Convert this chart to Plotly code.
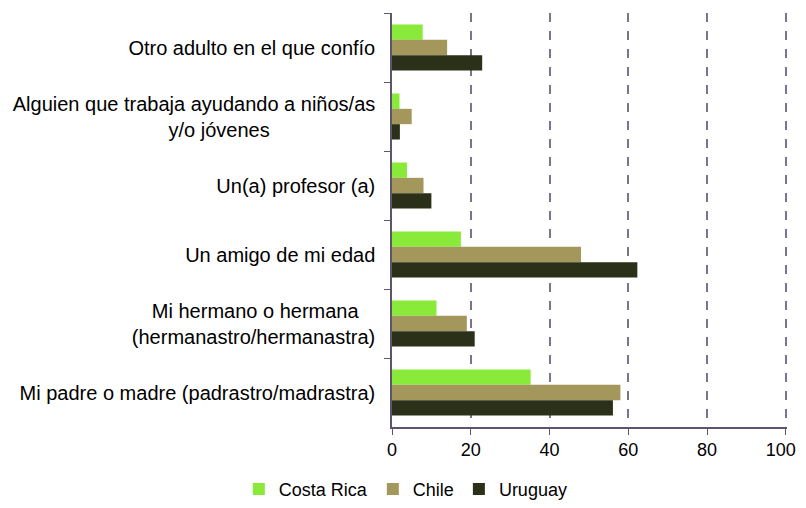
import plotly.graph_objects as go

nb = "\u00a0"
categories = [
    "Otro adulto en el que confío",
    "Alguien que trabaja ayudando a niños/as<br>y/o jóvenes" + nb * 19,
    "Un(a) profesor (a)",
    "Un amigo de mi edad",
    "Mi hermano o hermana" + nb * 3 + "<br>(hermanastro/hermanastra)",
    "Mi padre o madre (padrastro/madrastra)",
]
costa_rica = [7.8, 1.9, 3.8, 17.5, 11.3, 35.2]
chile = [14.0, 5.0, 8.0, 48.0, 19.0, 58.0]
uruguay = [22.9, 2.0, 10.0, 62.3, 21.0, 56.1]

x_ticks = [0, 20, 40, 60, 80, 100]
# last label padded so it is not cut at the right edge of the page
x_ticktext = ["0", "20", "40", "60", "80", "100" + nb * 2]

series = [
    ("Costa Rica", costa_rica, "#8aea3a"),
    ("Chile", chile, "#a3975c"),
    ("Uruguay", uruguay, "#2a3118"),
]

fig = go.Figure()
for name, vals, color in series:
    fig.add_trace(go.Bar(
        y=categories, x=vals, name=name, orientation="h",
        marker=dict(color=color, line=dict(width=0)),
    ))

axis_color = "#5e5470"
# page body has an 8px margin, so the figure is shifted by 8px
fig.update_layout(
    barmode="group",
    bargap=0.333,
    bargroupgap=0,
    width=790, height=492,
    margin=dict(l=384, r=11, t=5, b=73),
    plot_bgcolor="white",
    paper_bgcolor="white",
    font=dict(family="Liberation Sans, Arial, sans-serif", size=19, color="black"),
    xaxis=dict(
        range=[0, 100.3], tickvals=x_ticks, ticktext=x_ticktext,
        showgrid=True, gridcolor="#7a7390", griddash="dash", gridwidth=1.5,
        showline=True, linecolor=axis_color, linewidth=1.5,
        ticks="outside", ticklen=6, tickcolor=axis_color,
        zeroline=False, tickfont=dict(size=18), ticklabeloverflow="allow",
        automargin=False,
    ),
    yaxis=dict(
        autorange="reversed",
        showline=True, linecolor=axis_color, linewidth=1.5,
        ticks="outside", ticklen=6, tickcolor=axis_color, tickson="boundaries",
        showgrid=False, ticklabelstandoff=11, tickfont=dict(size=20),
        automargin=False,
    ),
    legend=dict(
        orientation="h", x=0.035, xanchor="center",
        yref="container", y=0.022, yanchor="middle",
        font=dict(size=18), itemwidth=30, tracegroupgap=0,
    ),
)

fig.write_html("out.html")
